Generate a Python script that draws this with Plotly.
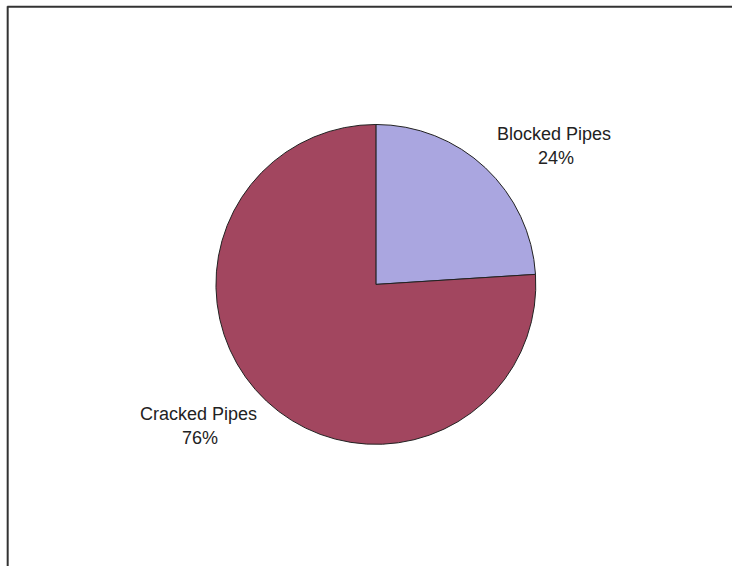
import plotly.graph_objects as go

labels = ["Blocked Pipes", "Cracked Pipes"]
values = [24, 76]
colors = ["#AAA6E0", "#A2465F"]

fig = go.Figure()
fig.add_trace(go.Pie(
    labels=labels, values=values, sort=False, direction="clockwise", rotation=0,
    marker=dict(colors=colors, line=dict(color="#222222", width=1)),
    textinfo="none", hoverinfo="label+percent", showlegend=False,
    domain=dict(x=[0.295, 0.732], y=[0.214, 0.781]),
))

W, H = 732, 566
total = sum(values)
# label block anchor positions (pixel centre of name line, pixel centre of percent line)
label_pos = [((554, 134), (556, 158)), ((198, 414), (200, 438))]
font = dict(family="Liberation Sans, Arial, sans-serif", size=18, color="#222222")
for lab, v, ((x1, y1), (x2, y2)) in zip(labels, values, label_pos):
    fig.add_annotation(x=x1 / W, y=1 - y1 / H, xref="paper", yref="paper", showarrow=False,
                       text=lab, xanchor="center", yanchor="middle", font=font)
    fig.add_annotation(x=x2 / W, y=1 - y2 / H, xref="paper", yref="paper", showarrow=False,
                       text=f"{round(100 * v / total)}%", xanchor="center", yanchor="middle", font=font)

# frame: top line and left line
fig.add_shape(type="line", xref="paper", yref="paper", x0=0.01, x1=1.0, y0=0.988, y1=0.988,
              line=dict(color="#333333", width=2))
fig.add_shape(type="line", xref="paper", yref="paper", x0=0.0105, x1=0.0105, y0=0.0, y1=0.989,
              line=dict(color="#333333", width=2))

fig.update_layout(
    width=W, height=H, margin=dict(l=0, r=0, t=0, b=0),
    paper_bgcolor="white", plot_bgcolor="white",
)
fig.write_html("out.html")
